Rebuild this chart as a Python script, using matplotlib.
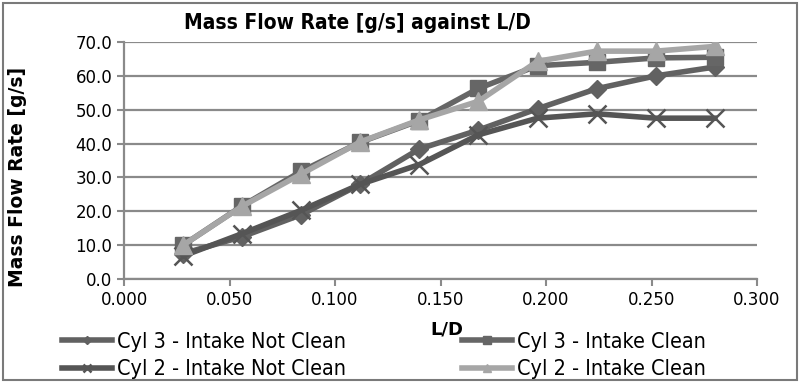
import matplotlib
matplotlib.use("Agg")
import matplotlib.pyplot as plt
from matplotlib.patches import Rectangle

# L/D positions and mass flow rate [g/s] per series
l_over_d = [0.028, 0.056, 0.084, 0.112, 0.140, 0.168, 0.196, 0.224, 0.252, 0.280]
cyl3_not_clean = [7.5, 12.5, 19.0, 28.0, 38.4, 44.0, 50.3, 56.2, 60.0, 62.6]
cyl3_clean = [10.0, 21.6, 31.8, 40.4, 46.8, 56.3, 63.0, 64.0, 65.3, 65.5]
cyl2_not_clean = [6.8, 13.4, 20.3, 28.0, 33.8, 42.6, 47.5, 48.8, 47.5, 47.5]
cyl2_clean = [10.0, 21.5, 31.0, 40.5, 47.0, 52.5, 64.3, 67.3, 67.3, 68.7]

labels = ["Cyl 3 - Intake Not Clean", "Cyl 2 - Intake Not Clean",
          "Cyl 3 - Intake Clean", "Cyl 2 - Intake Clean"]

plt.rcParams["font.family"] = "DejaVu Sans"

W, H = 800, 383
fig = plt.figure(figsize=(8, 3.83), dpi=100)
ax = fig.add_axes([124 / W, 1 - 279 / H, 633 / W, 237 / H])

grid_c = "#8a8a8a"
ax.set_axisbelow(True)
ax.yaxis.grid(True, color=grid_c, linewidth=1.6)

h1, = ax.plot(l_over_d, cyl3_not_clean, color="#616161", lw=4, marker="D",
              ms=9, zorder=3)
h3, = ax.plot(l_over_d, cyl3_clean, color="#666666", lw=4, marker="s",
              ms=12, zorder=3)
h2, = ax.plot(l_over_d, cyl2_not_clean, color="#555555", lw=4, marker="x",
              ms=13, mew=1.8, zorder=4)
h4, = ax.plot(l_over_d, cyl2_clean, color="#a6a6a6", lw=4, marker="^",
              ms=13, zorder=5)

ax.set_xlim(0, 0.3)
ax.set_ylim(0, 70)
ax.set_xticks([0, 0.05, 0.1, 0.15, 0.2, 0.25, 0.3])
ax.set_xticklabels([f"{v:.3f}" for v in ax.get_xticks()])
ax.set_yticks(range(0, 71, 10))
ax.set_yticklabels([f"{v:.1f}" for v in range(0, 71, 10)])
ax.tick_params(labelsize=12, color=grid_c, length=5, width=1.5)
for s in ["top", "right"]:
    ax.spines[s].set_visible(False)
for s in ["left", "bottom"]:
    ax.spines[s].set_color(grid_c)
    ax.spines[s].set_linewidth(1.6)

fig.text(357 / W, 1 - 23 / H, "Mass Flow Rate [g/s] against L/D",
         fontsize=15, weight="bold", stretch="condensed",
         ha="center", va="center")
ax.set_ylabel("Mass Flow Rate [g/s]", fontsize=13.5, weight="bold")
ax.yaxis.set_label_coords((27 - 124) / 633, (279 - 177) / 237)
fig.text(447 / W, 1 - 330 / H, "L/D", fontsize=13, weight="bold",
         ha="center", va="center")

leg_kw = dict(loc="upper left", frameon=False,
              prop=dict(size=15.5, stretch="condensed"),
              handlelength=2.3, handletextpad=0.25, labelspacing=0.33,
              borderaxespad=0, borderpad=0, markerscale=0.45)
leg1 = fig.legend([h1, h2], labels[:2], bbox_to_anchor=(62 / W, 1 - 332 / H),
                  **leg_kw)
leg2 = fig.legend([h3, h4], labels[2:], bbox_to_anchor=(462 / W, 1 - 332 / H),
                  **leg_kw)

fig.patches.append(Rectangle((3 / W, 3 / H), 794 / W, 377 / H,
                             transform=fig.transFigure, fill=False,
                             edgecolor="#7a7a7a", lw=1.5))

fig.savefig("out.png", dpi=100, facecolor="white")
